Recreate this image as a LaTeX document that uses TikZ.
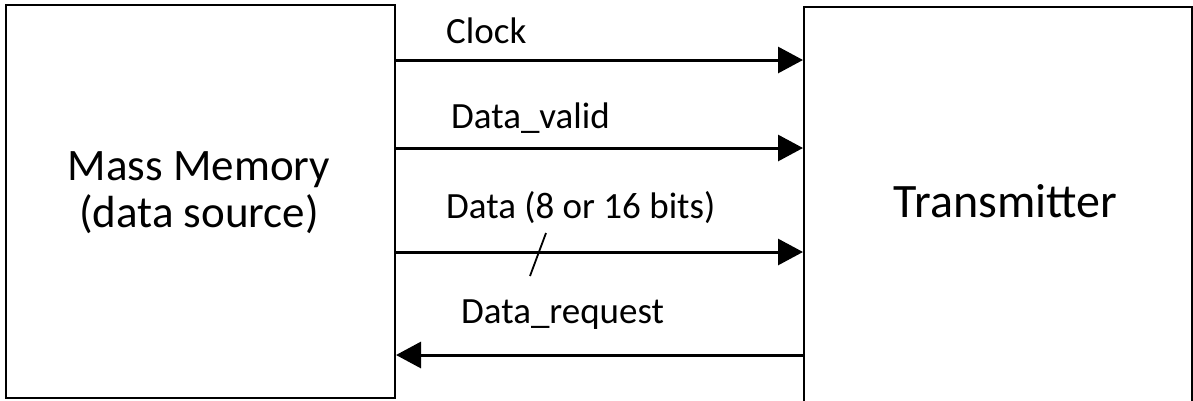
\documentclass[tikz,border=0pt]{standalone}
\usepackage{fontspec}
\setmainfont{Carlito}
\usetikzlibrary{arrows.meta}
\tikzset{
  boxstyle/.style={draw=black, line width=2pt, rectangle, inner sep=0pt},
  sig/.style={line width=3pt, -{Triangle[length=25pt,width=26pt]}},
  biglbl/.style={font=\fontsize{45}{47}\selectfont, inner sep=0pt, align=center},
  smalllbl/.style={font=\fontsize{37}{40}\selectfont, inner sep=0pt, anchor=base west},
}
\begin{document}
\begin{tikzpicture}[x=1pt,y=-1pt]
\useasboundingbox (0,0) rectangle (1193,400);
\fill[white] (0,0) rectangle (1193,400);
\node[boxstyle, minimum width=389pt, minimum height=393pt] (L) at (200.5,201.5) {};
\node[boxstyle, minimum width=388pt, minimum height=398pt] (R) at (998,206) {};
\node[biglbl] (Ltxt) at (199,193) {Mass Memory\\(data source)};
\node[biglbl, font=\fontsize{48}{50}\selectfont, anchor=base] (Rtxt) at (1005.5,217) {Transmitter};
\coordinate (y1) at (0,60);
\coordinate (y2) at (0,148);
\coordinate (y3) at (0,252);
\coordinate (y4) at (0,355);
\draw[sig] (L.east |- y1) -- (R.west |- y1);
\draw[sig] (L.east |- y2) -- (R.west |- y2);
\draw[sig] (L.east |- y3) -- (R.west |- y3);
\draw[sig] (R.west |- y4) -- (L.east |- y4);
\node[smalllbl] (t1) at (446,43) {Clock};
\node[smalllbl] (t2) at (451,128) {Data\_valid};
\node[smalllbl] (t3) at (446,218) {Data (8 or 16 bits)};
\node[smalllbl] (t4) at (461,323) {Data\_request};
\draw[line width=1.8pt] (546,233) -- (530,276);
\end{tikzpicture}
\end{document}
